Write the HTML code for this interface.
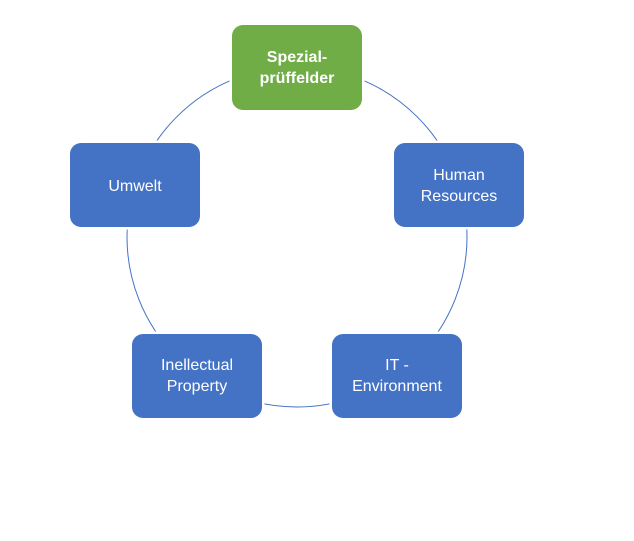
<!DOCTYPE html>
<html><head><style>body{margin:0;background:#fff}</style></head><body>
<svg width="634" height="541" xmlns="http://www.w3.org/2000/svg" style="display:block">
<rect width="634" height="541" fill="#fff"/>
<circle cx="297" cy="237" r="170" fill="none" stroke="#4472C4" stroke-width="1"/>
<g font-family="Liberation Sans, sans-serif" font-size="16" fill="#fff" text-anchor="middle">
<g stroke="#fff" stroke-width="5" fill="#fff">
<rect x="232" y="25" width="130" height="85" rx="11"/>
<rect x="70" y="143" width="130" height="84" rx="11"/>
<rect x="394" y="143" width="130" height="84" rx="11"/>
<rect x="132" y="334" width="130" height="84" rx="11"/>
<rect x="332" y="334" width="130" height="84" rx="11"/>
</g>
<rect x="232" y="25" width="130" height="85" rx="11" fill="#70AD47"/>
<rect x="70" y="143" width="130" height="84" rx="11" fill="#4472C4"/>
<rect x="394" y="143" width="130" height="84" rx="11" fill="#4472C4"/>
<rect x="132" y="334" width="130" height="84" rx="11" fill="#4472C4"/>
<rect x="332" y="334" width="130" height="84" rx="11" fill="#4472C4"/>
<text x="297" y="62" font-weight="bold">Spezial-</text>
<text x="297" y="83" font-weight="bold">prüffelder</text>
<text x="135" y="191">Umwelt</text>
<text x="459" y="180">Human</text>
<text x="459" y="201">Resources</text>
<text x="197" y="370">Inellectual</text>
<text x="197" y="391">Property</text>
<text x="397" y="370">IT -</text>
<text x="397" y="391">Environment</text>
</g>
</svg>
</body></html>
